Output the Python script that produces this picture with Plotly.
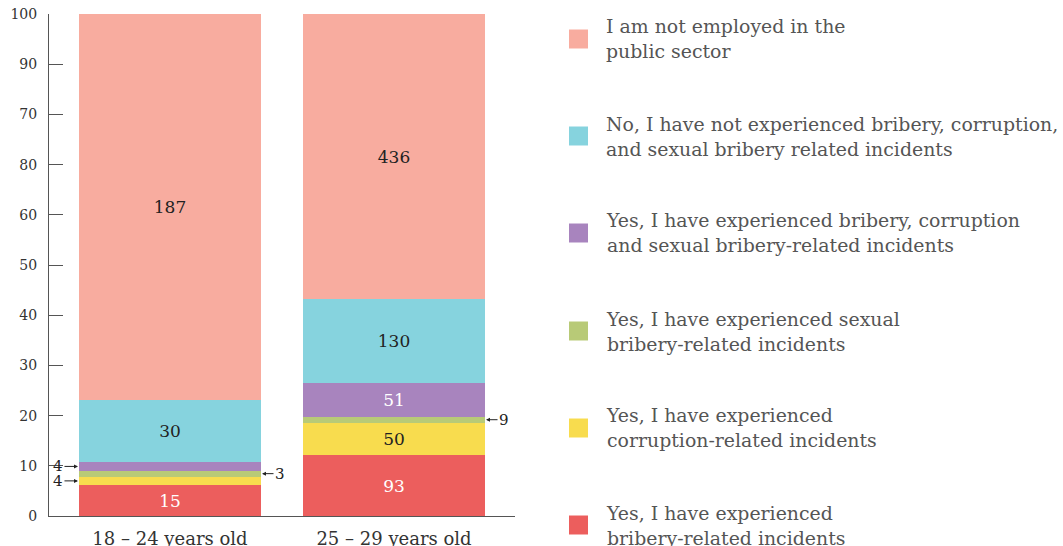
import plotly.graph_objects as go

categories = ["18 – 24 years old", "25 – 29 years old"]
series_names = [
    "Yes, I have experienced<br>bribery-related incidents",
    "Yes, I have experienced<br>corruption-related incidents",
    "Yes, I have experienced sexual<br>bribery-related incidents",
    "Yes, I have experienced bribery, corruption<br>and sexual bribery-related incidents",
    "No, I have not experienced bribery, corruption,<br>and sexual bribery related incidents",
    "I am not employed in the<br>public sector",
]
bribery = [15, 93]
corruption = [4, 50]
sexual = [3, 9]
all_three = [4, 51]
not_experienced = [30, 130]
not_employed = [187, 436]
series_values = [bribery, corruption, sexual, all_three, not_experienced, not_employed]
colors = ["#EC5E5D", "#F8DC4E", "#B8CA77", "#A884BE", "#86D3DE", "#F8AC9F"]
label_colors = ["white", "#222", "#222", "white", "#222", "#222"]
ytick_vals = [0, 10, 20, 30, 40, 50, 60, 70, 80, 90, 100]
ytick_text = ["0", "10", "20", "30", "40", "50", "60", "80", "70", "90", "100"]

FONT = "DejaVu Serif"
totals = [sum(s[i] for s in series_values) for i in range(len(categories))]
xs = list(range(len(categories)))
BAR_W = 0.8125

fig = go.Figure()
for k, (name, vals) in enumerate(zip(series_names, series_values)):
    pct = [v / totals[i] * 100 for i, v in enumerate(vals)]
    txt = [str(v) if p >= 4 else "" for v, p in zip(vals, pct)]
    fig.add_trace(go.Bar(
        x=xs, y=pct, name=name, marker=dict(color=colors[k], line=dict(width=0)),
        width=BAR_W, text=txt, textposition="inside", insidetextanchor="middle",
        textangle=0,
        textfont=dict(family=FONT, size=17, color=label_colors[k]),
        showlegend=False, hoverinfo="skip",
    ))

# external labels for thin segments
ext = [  # (series index, category index, side)
    (3, 0, "left"), (1, 0, "left"), (2, 0, "right"), (2, 1, "right"),
]
for k, i, side in ext:
    base = sum(series_values[j][i] for j in range(k)) / totals[i] * 100
    mid = base + series_values[k][i] / totals[i] * 100 / 2
    xe = xs[i] - BAR_W / 2 if side == "left" else xs[i] + BAR_W / 2
    fig.add_annotation(
        x=xe, y=mid, xref="x", yref="y", text=str(series_values[k][i]),
        showarrow=True, arrowhead=2, arrowsize=0.8, arrowwidth=1, arrowcolor="#222",
        ax=-21 if side == "left" else 19, ay=0, standoff=1,
        font=dict(family=FONT, size=15, color="#222"),
    )

W, H = 1063, 546
px0, pw, ptop, ph = 49, 466, 14, 502

def xp(px):
    return (px - px0) / pw

def yp(py):
    return (ptop + ph - py) / ph

legend_y = [39, 136, 233, 331, 428, 525]
for n, k in enumerate(reversed(range(len(series_names)))):
    cy = legend_y[n]
    fig.add_shape(type="rect", xref="paper", yref="paper",
                  x0=xp(569), x1=xp(588), y0=yp(cy + 9.5), y1=yp(cy - 9.5),
                  fillcolor=colors[k], line=dict(width=0))
    fig.add_annotation(x=xp(604), y=yp(cy), xref="paper", yref="paper",
                       text=series_names[k], showarrow=False, xanchor="left",
                       yanchor="middle", align="left",
                       font=dict(family=FONT, size=18.9, color="#555"))

fig.update_layout(
    width=W, height=H,
    margin=dict(l=px0, r=W - px0 - pw, t=ptop, b=H - ptop - ph, autoexpand=False),
    plot_bgcolor="white", paper_bgcolor="white",
    barmode="stack", bargap=0,
    font=dict(family=FONT, color="#333"),
    xaxis=dict(range=[-0.54, 1.54], tickvals=xs, ticktext=categories,
               showline=True, linecolor="#555", linewidth=1, ticks="",
               showgrid=False, zeroline=False, ticklabelstandoff=6,
               ticklabeloverflow="allow",
               tickfont=dict(family=FONT, size=18, color="#333")),
    yaxis=dict(range=[0, 100], tickvals=ytick_vals, ticktext=ytick_text,
               showline=True, linecolor="#555", linewidth=1, ticks="inside",
               ticklen=14, tickcolor="#555", showgrid=False, zeroline=False,
               ticklabelstandoff=8, ticklabeloverflow="allow",
               tickfont=dict(family=FONT, size=14, color="#333")),
)

fig.write_html(
    "out.html",
    config={"displayModeBar": False},
    post_script="document.body.style.margin='0';document.body.style.overflow='hidden';",
)
